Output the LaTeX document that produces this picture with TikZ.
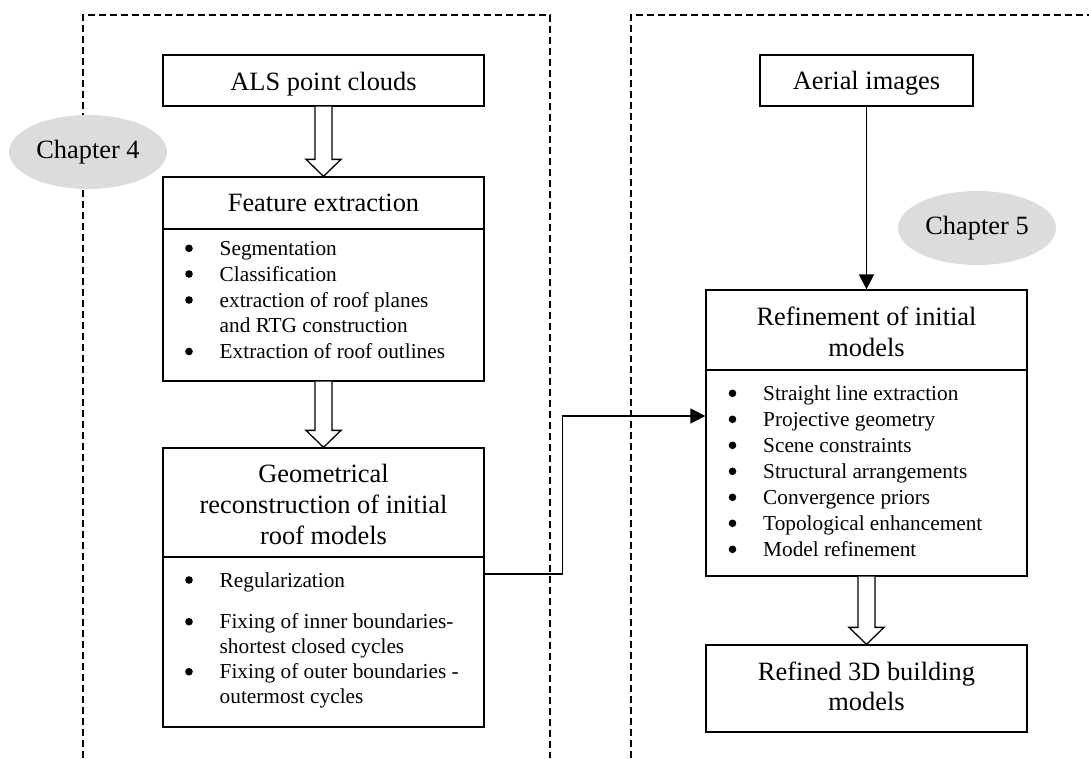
\documentclass[tikz,border=0pt]{standalone}
\usepackage{fontspec}
\setmainfont{Liberation Serif}
\usetikzlibrary{arrows.meta,calc,shapes.geometric}
\definecolor{chapgrey}{RGB}{220,220,220}
\tikzset{
  box/.style={draw, line width=1.3pt, minimum width=321pt, inner sep=0pt},
  ttl/.style={font=\fontsize{26.4}{31}\selectfont, inner sep=0pt, anchor=base},
  itm/.style={font=\fontsize{21.3}{25.5}\selectfont, inner sep=0pt, anchor=base west},
  chap/.style={ellipse, fill=chapgrey, minimum width=158pt, minimum height=74pt, inner sep=0pt, font=\fontsize{26.4}{31}\selectfont},
  chapframe/.style={dash pattern=on 7pt off 4pt, line width=1.3pt},
  harrow/.style={line width=1.3pt, fill=white, line join=miter},
  conn/.style={line width=1.5pt, -{Triangle[width=15pt,length=15pt]}}
}
\newcommand\hollowarrow[2]{%
  \draw[harrow] let \p1=(#1), \p2=(#2) in
   (\x1-8.5pt,\y1) -- (\x1-8.5pt,\y2+17pt) -- (\x1-17.5pt,\y2+17pt) -- (\x1,\y2)
   -- (\x1+17.5pt,\y2+17pt) -- (\x1+8.5pt,\y2+17pt) -- (\x1+8.5pt,\y1);}
% bullet item: name, position, text
\newcommand\bitem[3]{%
  \node[itm] (#1) at (#2) {#3};
  \fill ($(#1.base west)+(-30.5,-7)$) circle (3.8pt);}
\begin{document}
\begin{tikzpicture}[x=1pt,y=-1pt]
\useasboundingbox (0,0) rectangle (1089,758);
% dashed chapter frames
\draw[chapframe] (83,758) -- (83,15) -- (550,15) -- (550,758);
\draw[chapframe] (631,758) -- (631,15) -- (1089,15);
% chapter labels
\node[chap] (ch4) at (88,152) {Chapter 4};
\node[chap] (ch5) at (977,228) {Chapter 5};

% ---------- left column ----------
\node[box, minimum height=51pt] (als) at (323.5,80.5) {};
\node[ttl] (alsT) at (323.5,90) {ALS point clouds};

\node[box, minimum height=52pt] (featT) at (323.5,203) {};
\node[ttl] (featL) at (323.5,211.7) {Feature extraction};
\node[box, minimum height=152pt] (featB) at (323.5,305) {};
\bitem{f1}{219.5,255.3}{Segmentation}
\bitem{f2}{219.5,281}{Classification}
\bitem{f3}{219.5,307}{extraction of roof planes}
\node[itm] (f3b) at (219.5,332.7) {and RTG construction};
\bitem{f4}{219.5,358.5}{Extraction of roof outlines}

\node[box, minimum height=109pt] (geomT) at (323.5,502.5) {};
\node[ttl] (g1) at (323.5,482.7) {Geometrical};
\node[ttl] (g2) at (323.5,513.3) {reconstruction of initial};
\node[ttl] (g3) at (323.5,544) {roof models};
\node[box, minimum height=170pt] (geomB) at (323.5,642) {};
\bitem{r1}{219.5,587}{Regularization}
\bitem{r2}{219.5,628.7}{Fixing of inner boundaries-}
\node[itm] (r2b) at (219.5,653) {shortest closed cycles};
\bitem{r3}{219.5,678.7}{Fixing of outer boundaries -}
\node[itm] (r3b) at (219.5,703.5) {outermost cycles};

\hollowarrow{als.south}{featT.north}
\hollowarrow{featB.south}{geomT.north}

% ---------- right column ----------
\node[box, minimum width=213pt, minimum height=51pt] (aer) at (866.5,80.5) {};
\node[ttl] (aerT) at (866.5,89.3) {Aerial images};

\node[box, minimum height=80pt] (refT) at (866.5,330) {};
\node[ttl] (rt1) at (866.5,325) {Refinement of initial};
\node[ttl] (rt2) at (866.5,356.7) {models};
\node[box, minimum height=206pt] (refB) at (866.5,473) {};
\bitem{s1}{763,400.3}{Straight line extraction}
\bitem{s2}{763,426.3}{Projective geometry}
\bitem{s3}{763,452.3}{Scene constraints}
\bitem{s4}{763,478.3}{Structural arrangements}
\bitem{s5}{763,504.3}{Convergence priors}
\bitem{s6}{763,530.3}{Topological enhancement}
\bitem{s7}{763,556.3}{Model refinement}

\node[box, minimum height=87pt] (fin) at (866.5,688.5) {};
\node[ttl] (fin1) at (866.5,680) {Refined 3D building};
\node[ttl] (fin2) at (866.5,710) {models};

\hollowarrow{refB.south}{fin.north}

% connectors
\draw[conn] (aer.south) -- (refT.north);
\coordinate (j1) at (562.5,574);
\coordinate (j2) at (562.5,416);
\draw[conn] (geomB.east |- j1) -- (j1) -- (j2) -- (refB.west |- j2);
\end{tikzpicture}
\end{document}
